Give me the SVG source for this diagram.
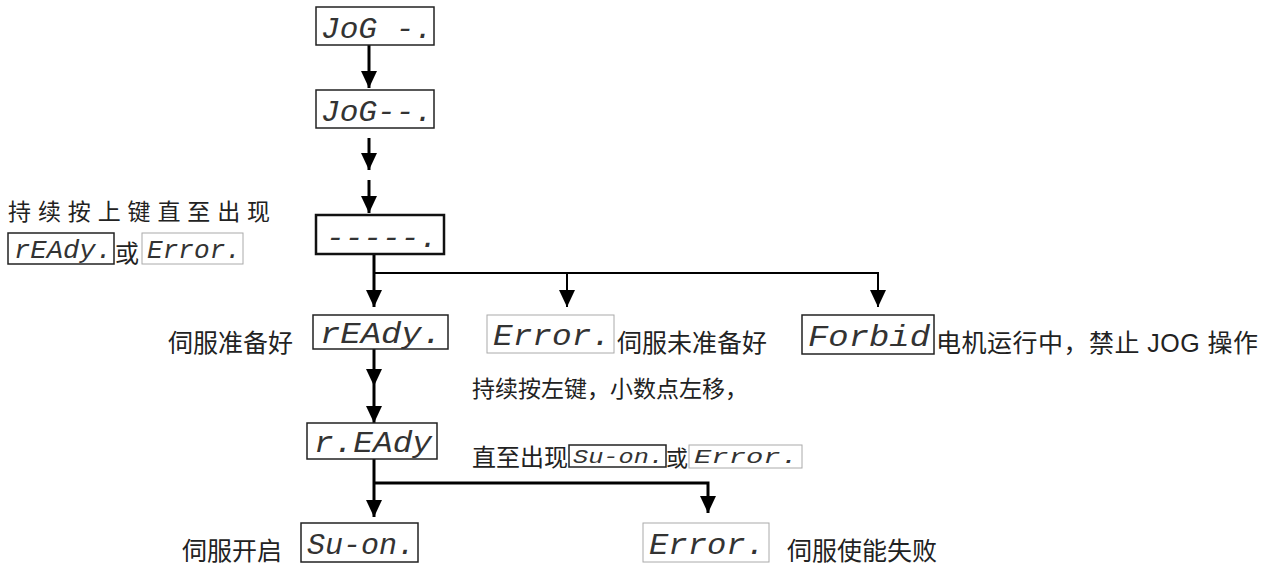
<svg xmlns="http://www.w3.org/2000/svg" width="1273" height="565" viewBox="0 0 1273 565">
<style>
.bx{fill:#fff;stroke:#222;stroke-width:1.5}
.bxl{fill:#fff;stroke:#aaa;stroke-width:1}
.bxt{fill:#fff;stroke:#111;stroke-width:2.5}
.led{font-family:"Liberation Mono","DejaVu Sans Mono",monospace;font-style:italic;fill:#333}
.cn{font-family:"Liberation Sans","Noto Sans CJK SC",sans-serif;fill:#222}
.ln{fill:none;stroke:#000;stroke-width:3}
</style>
<defs>
<marker id="ah" markerUnits="userSpaceOnUse" markerWidth="17" markerHeight="17" refX="17" refY="8" orient="auto" viewBox="0 0 17 16">
<path d="M0,0 L17,8 L0,16 Z" fill="#000"/>
</marker>
</defs>
<rect width="1273" height="565" fill="#fff"/>
<g id="connectors">
<line class="ln" x1="369" y1="45" x2="369" y2="88" marker-end="url(#ah)"/>
<line class="ln" x1="369" y1="138" x2="369" y2="170" marker-end="url(#ah)"/>
<line class="ln" x1="369" y1="180" x2="369" y2="213" marker-end="url(#ah)"/>
<line class="ln" x1="374" y1="254" x2="374" y2="307" marker-end="url(#ah)"/>
<polyline class="ln" points="374,273 878,273 878,307" marker-end="url(#ah)" style="stroke-width:2"/>
<line class="ln" x1="567" y1="273" x2="567" y2="307" marker-end="url(#ah)" style="stroke-width:2"/>
<line class="ln" x1="374" y1="349" x2="374" y2="386" marker-end="url(#ah)"/>
<line class="ln" x1="374" y1="386" x2="374" y2="423" marker-end="url(#ah)"/>
<line class="ln" x1="374" y1="459" x2="374" y2="517" marker-end="url(#ah)"/>
<polyline class="ln" points="374,483 708,483 708,513" marker-end="url(#ah)"/>
</g>
<g id="jog1">
<rect class="bx" x="316" y="7" width="118" height="38"/>
<text class="led" x="321" y="38" font-size="30" textLength="112" lengthAdjust="spacingAndGlyphs">JoG -.</text>
</g>
<g id="jog2">
<rect class="bx" x="316" y="90" width="118" height="38"/>
<text class="led" x="321" y="121" font-size="30" textLength="112" lengthAdjust="spacingAndGlyphs">JoG--.</text>
</g>
<g id="dashes">
<rect class="bxt" x="316" y="215" width="128" height="39"/>
<text class="led" x="326" y="247" font-size="30" textLength="112" lengthAdjust="spacingAndGlyphs">-----.</text>
</g>
<g id="note1">
<text class="cn" x="8" y="220" font-size="23" textLength="262" lengthAdjust="spacing">持续按上键直至出现</text>
<rect class="bx" x="8" y="233" width="106" height="31"/>
<text class="led" x="14" y="258" font-size="25" textLength="98" lengthAdjust="spacingAndGlyphs">rEAdy.</text>
<text class="cn" x="115" y="262" font-size="24">或</text>
<rect class="bxl" x="142" y="233" width="101" height="31"/>
<text class="led" x="147" y="258" font-size="25" textLength="94" lengthAdjust="spacingAndGlyphs">Error.</text>
</g>
<g id="ready">
<text class="cn" x="168" y="352" font-size="25">伺服准备好</text>
<rect class="bx" x="313" y="315" width="135" height="34"/>
<text class="led" x="320" y="343" font-size="29" textLength="122" lengthAdjust="spacingAndGlyphs">rEAdy.</text>
</g>
<g id="error1">
<rect class="bxl" x="487" y="315" width="127" height="38"/>
<text class="led" x="493" y="345" font-size="30" textLength="118" lengthAdjust="spacingAndGlyphs">Error.</text>
<text class="cn" x="617" y="352" font-size="25">伺服未准备好</text>
</g>
<g id="forbid">
<rect class="bx" x="802" y="315" width="132" height="39"/>
<text class="led" x="808" y="346" font-size="30" textLength="122" lengthAdjust="spacingAndGlyphs">Forbid</text>
<text class="cn" x="936" y="352" font-size="25" textLength="322" lengthAdjust="spacing">电机运行中，禁止 JOG 操作</text>
</g>
<g id="ready2">
<rect class="bx" x="307" y="423" width="130" height="36"/>
<text class="led" x="314" y="452" font-size="29" textLength="118" lengthAdjust="spacingAndGlyphs">r.EAdy</text>
</g>
<g id="note2">
<text class="cn" x="472" y="397" font-size="23" textLength="276" lengthAdjust="spacing">持续按左键，小数点左移，</text>
<text class="cn" x="472" y="466" font-size="24">直至出现</text>
<rect class="bx" x="569" y="445" width="97" height="22"/>
<text class="led" x="573" y="463" font-size="20" textLength="91" lengthAdjust="spacingAndGlyphs">Su-on.</text>
<text class="cn" x="666" y="466" font-size="22">或</text>
<rect class="bxl" x="689" y="445" width="113" height="23"/>
<text class="led" x="694" y="463" font-size="21" textLength="104" lengthAdjust="spacingAndGlyphs">Error.</text>
</g>
<g id="suon">
<text class="cn" x="182" y="560" font-size="25">伺服开启</text>
<rect class="bx" x="301" y="523" width="117" height="39"/>
<text class="led" x="307" y="554" font-size="30" textLength="108" lengthAdjust="spacingAndGlyphs">Su-on.</text>
</g>
<g id="error2">
<rect class="bxl" x="643" y="523" width="126" height="39"/>
<text class="led" x="649" y="554" font-size="30" textLength="116" lengthAdjust="spacingAndGlyphs">Error.</text>
<text class="cn" x="787" y="560" font-size="25">伺服使能失败</text>
</g>
</svg>
